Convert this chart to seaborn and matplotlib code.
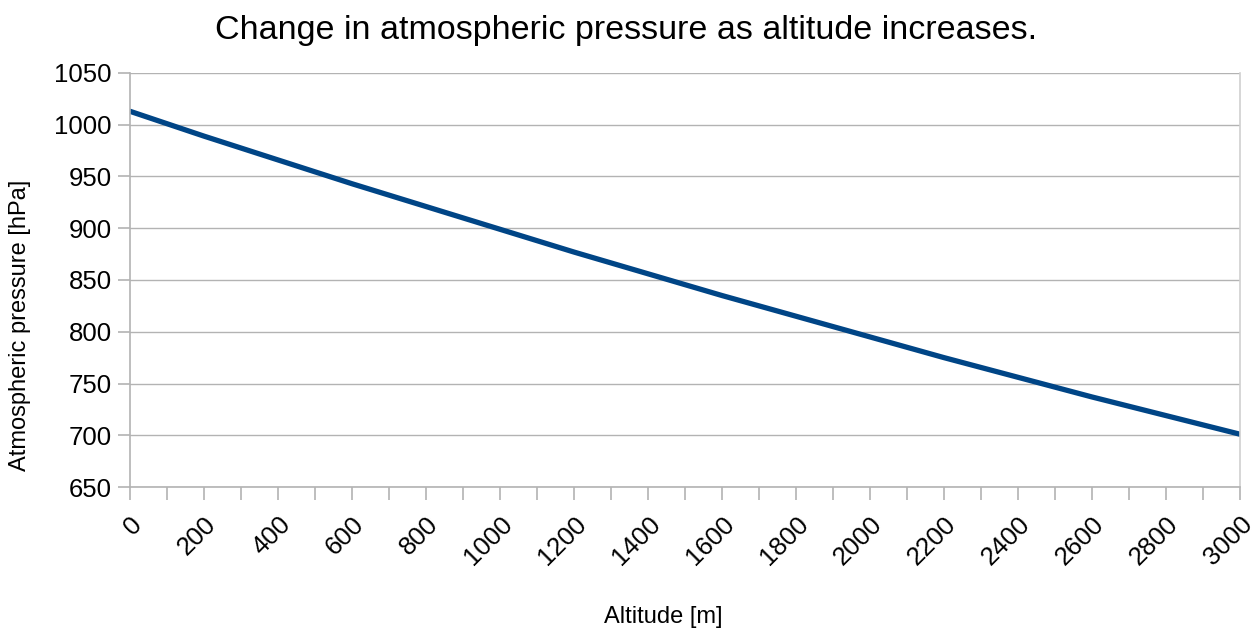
import numpy as np
import pandas as pd
import matplotlib.pyplot as plt
import seaborn as sns

# values
altitude = [0, 200, 400, 600, 800, 1000, 1200, 1400, 1600, 1800,
            2000, 2200, 2400, 2600, 2800, 3000]
pressure = [1013, 989, 966, 943, 921, 899, 877, 856, 835, 815,
            795, 775, 756, 737, 719, 701]
x_labels = [str(v) for v in range(0, 3001, 200)]
y_ticks = list(range(650, 1051, 50))

df = pd.DataFrame({'Altitude': altitude, 'Pressure': pressure})

sns.set_style('white')
plt.rcParams['font.family'] = ['Liberation Sans', 'DejaVu Sans']
plt.rcParams['text.color'] = 'black'
plt.rcParams['axes.labelcolor'] = 'black'
plt.rcParams['xtick.color'] = 'black'
plt.rcParams['ytick.color'] = 'black'

fig = plt.figure(figsize=(12.52, 6.28), dpi=100)
ax = fig.add_axes([0.1038, 0.2245, 0.8866, 0.6593])

sns.lineplot(data=df, x='Altitude', y='Pressure', color='#004586', linewidth=3.8, ax=ax)

ax.set_xlim(0, 3000)
ax.set_ylim(650, 1050)
ax.set_yticks(y_ticks)
ax.set_xticks(range(0, 3001, 100), minor=True)
ax.set_xticks(range(0, 3001, 200))
ax.set_xticklabels(x_labels, rotation=45, ha='right', rotation_mode='anchor')
ax.yaxis.grid(True, color='#b3b3b3', linewidth=1)
ax.set_axisbelow(True)

grey = '#b3b3b3'
for side in ['left', 'bottom']:
    ax.spines[side].set_color(grey)
    ax.spines[side].set_linewidth(1.2)
ax.spines['right'].set_color('#d0d0d0')
ax.spines['right'].set_linewidth(1.2)
ax.spines['top'].set_visible(False)

ax.tick_params(axis='both', which='both', direction='out', color=grey,
               bottom=True, left=True, length=9, width=1.2,
               labelsize=18.5, labelcolor='black')
ax.tick_params(axis='x', which='both', pad=9)
ax.tick_params(axis='y', pad=4)

ax.set_xlabel('')
ax.set_ylabel('')
fig.text(0.5295, 1 - 617 / 628, 'Altitude [m]', fontsize=17, ha='center', va='center')
fig.text(20 / 1252, 1 - 325 / 628, 'Atmospheric pressure [hPa]', fontsize=17,
         ha='center', va='center', rotation=90)
fig.text(0.5, 1 - 31 / 628, 'Change in atmospheric pressure as altitude increases.',
         fontsize=24.5, ha='center', va='center')

fig.savefig('out.png', dpi=100)
